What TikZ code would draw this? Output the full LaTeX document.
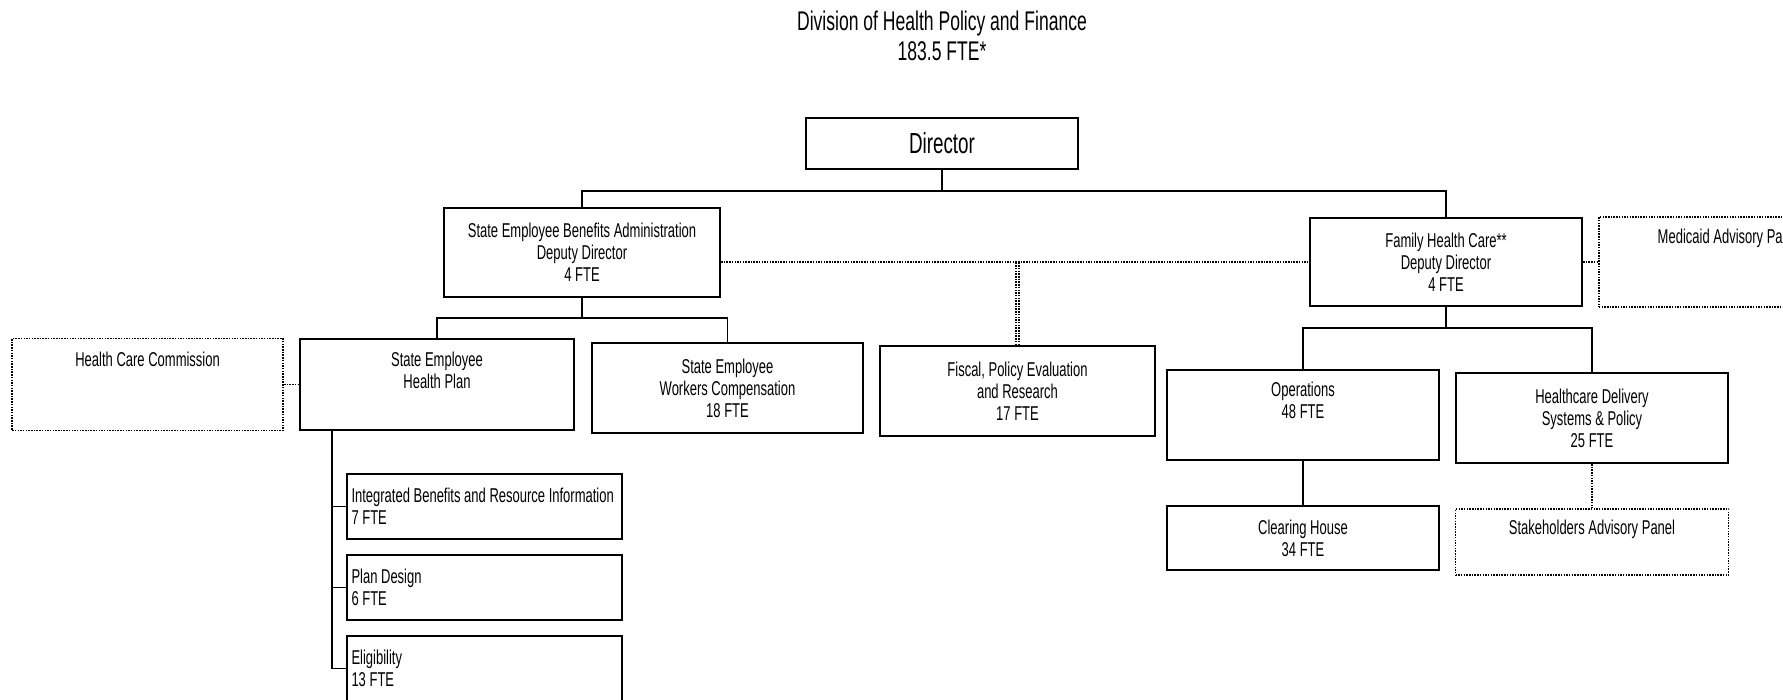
\documentclass[tikz,border=0pt]{standalone}
\usepackage{fontspec}
\setmainfont[FakeStretch=0.65]{Liberation Sans}
\usepackage{tikz}
\usetikzlibrary{positioning}

\begin{document}
\begin{tikzpicture}[x=1pt, y=-1pt,
        unit/.style={draw, rectangle, line width=2pt, minimum width=272pt, minimum height=90pt, inner sep=0pt, align=center, font=\fontsize{20}{22}\selectfont},
        panel/.style={unit, line width=1.8pt, dash pattern=on 1.5pt off 1.2pt},
        sub/.style={unit, minimum height=65pt, text width=266pt, inner xsep=4.5pt, align=flush left},
        link/.style={line width=1.3pt},
        dots/.style={line width=1.6pt, dash pattern=on 1.5pt off 1.2pt}]
        % Page
        \path[use as bounding box, fill=white] (0,0) rectangle (1783,699);
        \clip (0,0) rectangle (1783,699);

        % Title
        \node (title) at (942,36) [align=center, font=\fontsize{27}{30}\selectfont] {Division of Health Policy and Finance\\183.5 FTE*};

        % Director
        \node (director) [unit, minimum height=51pt, font=\fontsize{29}{31}\selectfont] at (942,143.5) {Director};

        % Deputy Directors
        \node (seba) [unit, minimum width=276pt, minimum height=89pt] at (582,252.5) {State Employee Benefits Administration\\Deputy Director\\4 FTE};
        \node (fhc) [unit, minimum height=88pt] at (1446,262) {Family Health Care**\\Deputy Director\\4 FTE};
        \node (medicaid) [panel, minimum width=260pt, right=15pt of fhc] {Medicaid Advisory Panel\\\strut\\\strut};

        % Benefits Units
        \node (sehp) [unit, minimum width=274pt, minimum height=91pt] at (437,384.5) {State Employee\\Health Plan\\\strut};
        \node (hcc) [panel, minimum width=271pt, minimum height=92pt, left=15pt of sehp] {Health Care Commission\\\strut\\\strut};
        \node (sewc) [unit, minimum width=271pt, right=16pt of sehp, yshift=-3.5pt] {State Employee\\Workers Compensation\\18 FTE};
        \node (fiscal) [unit, minimum width=275pt, right=15pt of sewc, yshift=-3pt] {Fiscal, Policy Evaluation\\and Research\\17 FTE};

        % Health Plan Sections
        \node (ibri) [sub] at (484.5,506.5) {Integrated Benefits and Resource Information\\7 FTE};
        \node (plandesign) [sub, below=14pt of ibri] {Plan Design\\6 FTE};
        \node (eligibility) [sub, below=14pt of plandesign] {Eligibility\\13 FTE};

        % Family Health Care Units
        \node (operations) [unit] at (1303,415) {Operations\\48 FTE\\\strut};
        \node (delivery) [unit, right=15pt of operations, yshift=-3pt] {Healthcare Delivery\\Systems \& Policy\\25 FTE};
        \node (clearing) [unit, minimum height=64pt, below=44pt of operations] {Clearing House\\34 FTE};
        \node (stakeholders) [panel, minimum width=273pt, minimum height=66pt, below=44pt of delivery] {Stakeholders Advisory Panel\\\strut};

        % Solid lines
        \coordinate (topbus) at (942,191);
        \coordinate (sebabus) at (582,318);
        \coordinate (fhcbus) at (1446,328);
        \draw[link] (director) -- (topbus);
        \draw[link] (seba.north) |- (topbus) -| (fhc.north);
        \draw[link] (seba) -- (sebabus);
        \draw[link] (sehp.north) |- (sebabus) -| (sewc.north);
        \draw[link] (fhc) -- (fhcbus);
        \draw[link] (operations.north) |- (fhcbus) -| (delivery.north);
        \draw[link] (operations) -- (clearing);
        \draw[link] ([xshift=-105pt]sehp.south) |- (eligibility.west);
        \draw[link] (ibri.west) -- ++(-15pt,0);
        \draw[link] (plandesign.west) -- ++(-15pt,0);

        % Dotted lines
        \draw[dots] (seba.east |- fhc.west) -- (fhc.west);
        \draw[dots, double, double distance=1.8pt, line width=1.2pt] (fiscal.north) -- (fiscal.north |- fhc.west);
        \draw[dots] (fhc) -- (medicaid);
        \draw[dots] (hcc) -- (sehp);
        \draw[dots] (delivery) -- (stakeholders);
    \end{tikzpicture}
\end{document}
